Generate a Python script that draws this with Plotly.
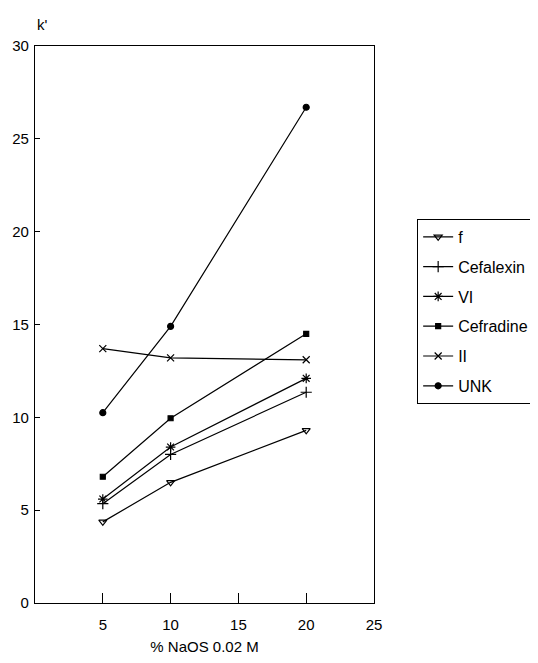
import plotly.graph_objects as go

x_vals = [5, 10, 20]
names = ["f", "Cefalexin", "VI", "Cefradine", "II", "UNK"]
f_vals = [4.37, 6.5, 9.3]
cefalexin_vals = [5.35, 8.0, 11.35]
vi_vals = [5.6, 8.4, 12.1]
cefradine_vals = [6.8, 9.95, 14.5]
ii_vals = [13.7, 13.2, 13.1]
unk_vals = [10.25, 14.9, 26.7]

series = [f_vals, cefalexin_vals, vi_vals, cefradine_vals, ii_vals, unk_vals]
symbols = ["triangle-down-open", "cross-thin-open", "asterisk-open",
           "square", "x-thin-open", "circle"]
sizes = [7, 8, 8, 5, 7, 6]

FONT = "Liberation Sans, Arial, sans-serif"

fig = go.Figure()
for i, (nm, vals) in enumerate(zip(names, series)):
    fig.add_trace(go.Scatter(
        x=x_vals, y=vals, name=nm, mode="lines+markers",
        legendgroup=nm,
        line=dict(color="black", width=1.2),
        marker=dict(symbol=symbols[i], size=sizes[i], color="black",
                    line=dict(color="black", width=1.2)),
    ))

# page body has an 8px default margin, so the figure is offset by 8px
fig.update_layout(
    width=530, height=647,
    margin=dict(l=27, r=164, t=38, b=52),
    paper_bgcolor="white", plot_bgcolor="white",
    font=dict(family=FONT, size=15, color="black"),
    showlegend=True,
    legend=dict(
        xref="container", yref="container",
        x=0.772, y=0.674, xanchor="left", yanchor="top",
        bordercolor="black", borderwidth=1,
        font=dict(family=FONT, size=16, color="black"),
        traceorder="grouped", tracegroupgap=6,
        itemwidth=30,
    ),
    xaxis=dict(
        range=[0, 25], tickvals=[5, 10, 15, 20, 25],
        ticks="inside", ticklen=10, tickcolor="black",
        showline=True, linecolor="black", linewidth=1.2, mirror=True,
        showgrid=False, zeroline=False, automargin=False,
        ticklabelstandoff=8,
        title=dict(text="% NaOS 0.02 M", font=dict(size=15), standoff=18),
    ),
    yaxis=dict(
        range=[0, 30], tickvals=[0, 5, 10, 15, 20, 25, 30],
        ticks="inside", ticklen=5, tickcolor="black",
        showline=True, linecolor="black", linewidth=1.2, mirror=True,
        showgrid=False, zeroline=False, automargin=False,
        ticklabelstandoff=2,
    ),
    annotations=[dict(
        text="k'", xref="paper", yref="paper", x=0.0, y=1.0,
        xanchor="left", yanchor="bottom", yshift=11, showarrow=False,
        font=dict(family=FONT, size=15, color="black"),
    )],
)

fig.write_html("out.html")
